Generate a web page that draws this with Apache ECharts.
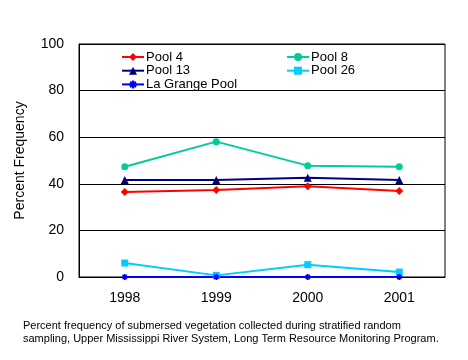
<!DOCTYPE html>
<html><head><meta charset="utf-8">
<script src="https://cdn.jsdelivr.net/npm/echarts@6/dist/echarts.min.js"></script>
<style>html,body{margin:0;padding:0;background:#fff}#c{width:468px;height:360px}</style>
</head><body><div id="c"></div>
<script>
var years = ['1998','1999','2000','2001'];
var pool4 = [36.5, 37.3, 38.9, 36.9];
var pool8 = [47.3, 58.1, 47.8, 47.3];
var pool13 = [41.6, 41.6, 42.6, 41.6];
var pool26 = [6.0, 0.7, 5.3, 2.1];
var laGrange = [0, 0, 0, 0];
var yTicks = [0, 20, 40, 60, 80, 100];

var F = 'Arial, "Liberation Sans", sans-serif';
function s(name, data, color, symbol, size) {
  return {name: name, type: 'line', data: data, symbol: symbol, symbolSize: size,
    lineStyle: {color: color, width: 2}, itemStyle: {color: color, borderColor: color, borderWidth: symbol.indexOf('path') === 0 ? 1.5 : 0}, animation: false};
}
var legText = {fontSize: 13, lineHeight: 13, height: 13, color: '#000', fontFamily: F, padding: [0,0,0,-3]};
var chart = echarts.init(document.getElementById('c'));
chart.setOption({
  backgroundColor: '#fff',
  textStyle: {fontFamily: F},
  grid: {left: 79, right: 23, top: 44, bottom: 83, show: true, borderColor: '#000', borderWidth: 1},
  legend: [
    {data: ['Pool 4', 'Pool 13', 'La Grange Pool'], orient: 'vertical', left: 116, top: 45.5,
     itemWidth: 22, itemHeight: 10, itemGap: 0.7, textStyle: legText},
    {data: ['Pool 8', 'Pool 26'], orient: 'vertical', left: 281, top: 45.5,
     itemWidth: 22, itemHeight: 10, itemGap: 0.7, textStyle: legText}
  ],
  xAxis: {type: 'category', data: years, boundaryGap: true,
    axisLine: {lineStyle: {color: '#000'}},
    axisTick: {inside: true, length: 5, lineStyle: {color: '#000'}},
    axisLabel: {fontSize: 14, color: '#000', margin: 14, fontFamily: F}},
  yAxis: {type: 'value', min: yTicks[0], max: yTicks[yTicks.length-1], interval: 20,
    name: 'Percent Frequency', nameLocation: 'middle', nameGap: 52,
    nameTextStyle: {fontSize: 14, color: '#000', fontFamily: F},
    axisLine: {show: true, lineStyle: {color: '#000'}},
    axisTick: {show: false},
    splitLine: {lineStyle: {color: '#000', width: 1}},
    axisLabel: {fontSize: 14, color: '#000', margin: 15, fontFamily: F}},
  series: [
    s('Pool 4', pool4, '#ff0000', 'diamond', 8),
    s('Pool 8', pool8, '#00cc99', 'circle', 7),
    s('Pool 13', pool13, '#000080', 'triangle', 8),
    s('Pool 26', pool26, '#00ccff', 'rect', 7),
    s('La Grange Pool', laGrange, '#0000ff', 'path://M0,5L10,5M5,0L5,10M1.5,1.5L8.5,8.5M8.5,1.5L1.5,8.5', 6)
  ],
  graphic: [{type: 'text', left: 23, top: 319, style: {
    text: 'Percent frequency of submersed vegetation collected during stratified random\nsampling, Upper Mississippi River System, Long Term Resource Monitoring Program.',
    font: '11px ' + F, fill: '#000', lineHeight: 13}}]
});
</script></body></html>
